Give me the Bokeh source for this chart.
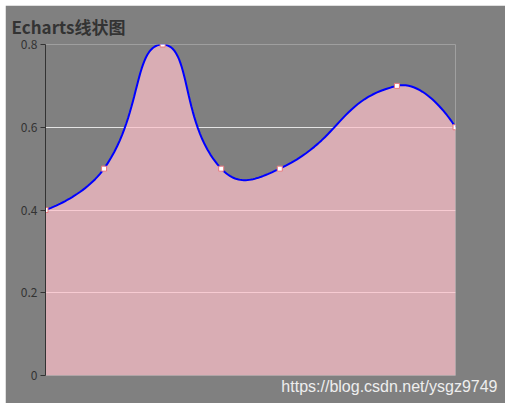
import numpy as np
from bokeh.plotting import figure
from bokeh.models import Range1d, FixedTicker, Title, ColumnDataSource
from bokeh.embed import file_html
from bokeh.resources import INLINE

# ---- data ----
x_vals = [0, 1, 2, 3, 4, 6, 7]
y_vals = [0.4, 0.5, 0.8, 0.5, 0.5, 0.7, 0.6]
y_ticks = [0, 0.2, 0.4, 0.6, 0.8]
y_tick_labels = ["0", "0.2", "0.4", "0.6", "0.8"]

# ---- layout ----
W, H = 500, 398
LEFT, RIGHT, TOP, BOTTOM = 40, 50, 39, 28
FRAME_W = W - LEFT - RIGHT
FRAME_H = H - TOP - BOTTOM
X_MIN, X_MAX = 0, 7
Y_MIN, Y_MAX = 0, 0.8


def smooth_curve(xs, ys, smooth=0.5, steps=30):
    # echarts-style bezier smoothing, computed in screen pixel space
    sx = FRAME_W / (X_MAX - X_MIN)
    sy = FRAME_H / (Y_MAX - Y_MIN)
    pts = np.column_stack([np.asarray(xs, float) * sx, np.asarray(ys, float) * sy])
    n = len(pts)
    lo, hi = pts.min(axis=0), pts.max(axis=0)
    cp_in = [None] * n
    cp_out = [None] * n
    cp_out[0] = pts[0]
    cp_in[-1] = pts[-1]
    for i in range(1, n - 1):
        a, p, b = pts[i - 1], pts[i], pts[i + 1]
        v = (b - a) * smooth
        d0 = np.hypot(*(p - a))
        d1 = np.hypot(*(p - b))
        s = d0 + d1
        cp_in[i] = np.clip(p - v * d0 / s, lo, hi)
        cp_out[i] = np.clip(p + v * d1 / s, lo, hi)
    out = [pts[0]]
    t = np.linspace(0, 1, steps + 1)[1:, None]
    for i in range(n - 1):
        p0, c0, c1, p1 = pts[i], cp_out[i], cp_in[i + 1], pts[i + 1]
        seg = ((1 - t) ** 3) * p0 + 3 * ((1 - t) ** 2) * t * c0 + 3 * (1 - t) * t ** 2 * c1 + t ** 3 * p1
        out.extend(seg)
    out = np.array(out)
    return out[:, 0] / sx, out[:, 1] / sy


cx, cy = smooth_curve(x_vals, y_vals)
curve = ColumnDataSource(dict(x=cx, y=cy))
pts = ColumnDataSource(dict(x=x_vals, y=y_vals))

p = figure(width=W, height=H, output_backend="svg", toolbar_location=None,
           x_range=Range1d(X_MIN, X_MAX), y_range=Range1d(Y_MIN, Y_MAX),
           x_axis_location=None,
           min_border_left=LEFT, min_border_right=RIGHT,
           min_border_top=TOP, min_border_bottom=BOTTOM)
p.margin = (5, 0, 0, 5)

p.background_fill_color = "#808080"
p.border_fill_color = "#808080"
p.outline_line_color = None

# title
p.title.text = "Echarts线状图"
p.title.text_font = "Noto Sans CJK SC"
p.title.text_font_size = "17px"
p.title.text_font_style = "bold"
p.title.text_color = "#333333"
p.title.align = "left"
p.title.offset = -34
p.title.standoff = 12

# watermark
wm = Title(text="https://blog.csdn.net/ysgz9749", align="right",
           text_font="Liberation Sans", text_font_size="16px",
           text_font_style="normal", text_color="#eeeeee", offset=-42, standoff=1)
p.add_layout(wm, "below")

# y axis
ax = p.yaxis[0]
ax.ticker = FixedTicker(ticks=y_ticks)
ax.major_label_overrides = {t: s for t, s in zip(y_ticks, y_tick_labels)}
ax.axis_line_color = "#333333"
ax.major_tick_line_color = "#333333"
ax.major_tick_out = 5
ax.major_tick_in = 0
ax.minor_tick_line_color = None
ax.major_label_text_color = "#333333"
ax.major_label_text_font = "Noto Sans CJK SC"
ax.major_label_text_font_size = "12px"
ax.major_label_standoff = 3

p.xgrid.grid_line_color = None
p.ygrid.ticker = FixedTicker(ticks=y_ticks)
p.ygrid.grid_line_color = "#e4e4e4"
p.ygrid.grid_line_width = 1

p.varea(x="x", y1=0, y2="y", source=curve, fill_color="pink", fill_alpha=0.7)
p.line(x="x", y="y", source=curve, line_color="#0000ff", line_width=2)
p.scatter(x="x", y="y", source=pts, marker="square", size=5,
          fill_color="white", line_color="#e8767c", line_width=1)

open("out.html", "w").write(file_html(p, INLINE))
